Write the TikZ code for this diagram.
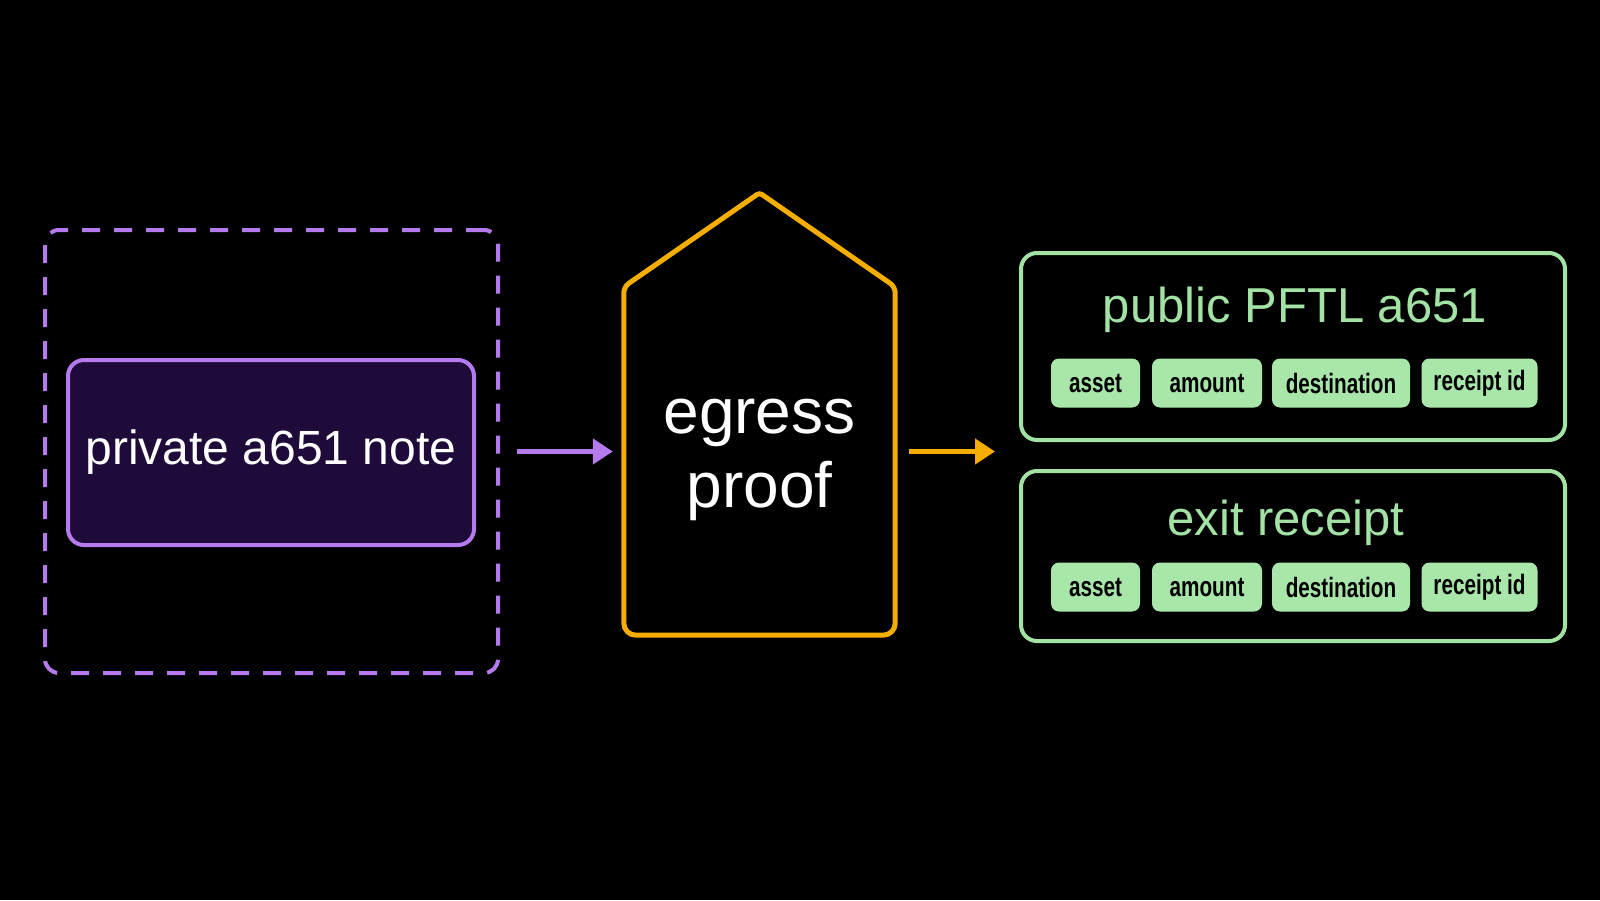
\documentclass[tikz,border=0pt]{standalone}
\usepackage{fontspec}
\setmainfont{Liberation Sans}
\newfontfamily\chipfont[FakeStretch=0.74]{Liberation Sans}
\usepackage{tikz}
\usetikzlibrary{arrows.meta,positioning,calc}
\definecolor{notepurple}{HTML}{B57BEE}
\definecolor{notefill}{HTML}{1E0B3A}
\definecolor{prooforange}{HTML}{F5AD00}
\definecolor{pubgreen}{HTML}{A3E2A5}
\definecolor{chipgreen}{HTML}{A8E6AA}

\begin{document}
\begin{tikzpicture}[x=1pt, y=-1pt,
  frame/.style={draw, line width=4pt, rounded corners=16pt, inner sep=0pt},
  title/.style={font=\fontsize{49}{58}\selectfont},
  chip/.style={fill=chipgreen, rounded corners=8pt, minimum height=49pt, inner sep=0pt, text=black, font=\chipfont\bfseries\fontsize{28}{32}\selectfont},
  arrow/.style={-{Triangle[length=20pt,width=25pt]}, line width=4.5pt}
]
\fill[black] (0,0) rectangle (1600,900);
% private side
\node[frame, draw=notepurple, dash pattern=on 18pt off 14pt, rounded corners=14pt, minimum width=453pt, minimum height=443pt] (wrap) at (271.5,451.5) {};
\node[frame, draw=notepurple, fill=notefill, minimum width=406pt, minimum height=185pt, text=white, font=\fontsize{48}{56}\selectfont] (note) at (271,452.5) {private a651 note};
% proof
\node[minimum width=271pt, minimum height=442pt, inner sep=0pt] (proof) at (759.5,414) {};
\draw[prooforange, line width=5pt, rounded corners=12pt] (proof.south) -- (proof.south west) [rounded corners=6pt] -- ($(proof.north west)+(0,94)$) [rounded corners=3pt] -- (proof.north) [rounded corners=6pt] -- ($(proof.north east)+(0,94)$) [rounded corners=12pt] -- (proof.south east) -- cycle;
\node[text=white, align=center, font=\fontsize{64}{74}\selectfont] (prooflbl) at (759.5,460) {egress\\proof};
% public side
\node[frame, draw=pubgreen, minimum width=544pt, minimum height=187pt] (pub) at (1293,346.5) {};
\node[title, text=pubgreen] (pubtitle) at (1295,310) {public PFTL a651};
\node[frame, draw=pubgreen, minimum width=544pt, minimum height=170pt] (rcpt) at (1293,556) {};
\node[title, text=pubgreen] (rcpttitle) at (1286,523) {exit receipt};
\foreach \cx/\cw/\name/\txt in {1095.5/89/asset/asset, 1207/110/amount/amount, 1341/138/dest/destination, 1479.5/116/rid/receipt id}{
  \node[chip, minimum width=\cw pt] (pub-\name) at (\cx,383) {\txt};
  \node[chip, minimum width=\cw pt] (rcpt-\name) at (\cx,587) {\txt};
}
% flow
\draw[arrow, notepurple, shorten <=17pt, shorten >=11pt] (wrap.east) -- (wrap.east -| proof.west);
\draw[arrow, prooforange, shorten <=14pt, shorten >=24pt] (proof.east |- wrap.east) -- (wrap.east -| pub.west);
\end{tikzpicture}
\end{document}
